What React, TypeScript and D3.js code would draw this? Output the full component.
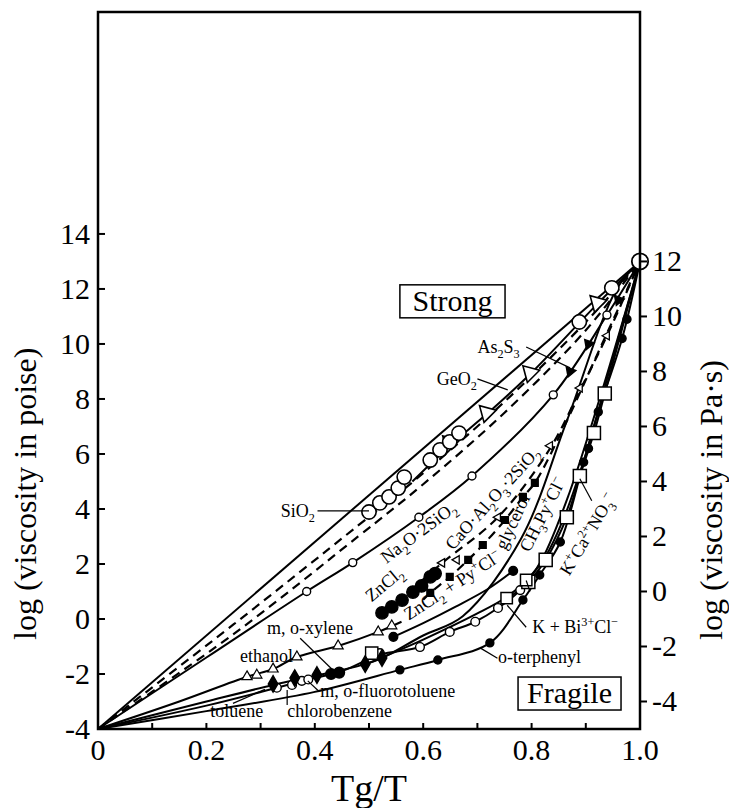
import React from "react";
import * as d3 from "d3";

type Pt = [number, number];

// all curves in log(poise) vs Tg/T, meeting at (1, 13)
const sio2Line: Pt[] = [[0, -4], [1, 13]];
const sio2Points: Pt[] = [[0.5, 3.89], [0.52, 4.22], [0.537, 4.44], [0.554, 4.76], [0.565, 5.16], [0.613, 5.78], [0.631, 6.15], [0.649, 6.44], [0.666, 6.76], [0.888, 10.8], [0.948, 12.04]];
const endPoint: Pt[] = [[1, 13]];

const dashedUpper: Pt[] = [[0, -4], [0.25, -0.2], [0.48, 3.4], [0.6, 5.3], [0.75, 7.9], [0.9, 10.8], [1, 13]];
const dashedLower: Pt[] = [[0, -4], [0.25, -0.55], [0.48, 3.0], [0.6, 4.9], [0.75, 7.5], [0.9, 10.5], [1, 13]];

const geo2Line: Pt[] = [[0.58, 5.0], [0.649, 6.3], [0.717, 7.45], [0.797, 8.9], [0.921, 11.45], [1, 13]];
const geo2Points: Pt[] = [[0.649, 6.4], [0.717, 7.5], [0.797, 8.95], [0.921, 11.5]];

const na2oLine: Pt[] = [[0, -4], [0.2, -1.4], [0.385, 1.0], [0.47, 2.05], [0.592, 3.7], [0.69, 5.2], [0.84, 8.15], [0.939, 11.05], [1, 13]];
const na2oPoints: Pt[] = [[0.385, 1.0], [0.47, 2.05], [0.592, 3.7], [0.69, 5.2], [0.84, 8.15], [0.939, 11.05]];
const as2s3Points: Pt[] = [[0.871, 9.0], [0.905, 10.0], [0.96, 11.6]];

const caoLine: Pt[] = [[0.575, 1.0], [0.635, 2.04], [0.738, 3.7], [0.834, 6.2], [0.889, 8.3], [0.939, 10.3], [1, 13]];
const caoPoints: Pt[] = [[0.635, 2.04], [0.662, 2.15], [0.738, 3.7], [0.834, 6.3], [0.889, 8.4], [0.939, 10.3]];

const squareDashLine: Pt[] = [[0.6, 0.7], [0.613, 0.95], [0.649, 1.53], [0.683, 2.15], [0.71, 2.69], [0.751, 3.6], [0.784, 4.44], [0.806, 4.95], [0.86, 7.0], [0.93, 10.0], [1, 13]];
const squareDashPoints: Pt[] = [[0.613, 0.95], [0.649, 1.53], [0.683, 2.15], [0.71, 2.69], [0.751, 3.6], [0.784, 4.44], [0.806, 4.95]];

const zncl2Points: Pt[] = [[0.524, 0.22], [0.542, 0.44], [0.561, 0.69], [0.581, 0.98], [0.597, 1.2], [0.613, 1.53], [0.622, 1.65]];

const glycerolLine: Pt[] = [[0, -4], [0.2, -3.0], [0.323, -2.4], [0.404, -2.05], [0.493, -1.64], [0.524, -1.42], [0.6, -0.6], [0.673, 0.1], [0.78, 2.9], [0.865, 7.2], [0.957, 12.0], [1, 13]];
const xylenePoints: Pt[] = [[0.323, -2.36], [0.363, -2.15], [0.404, -2.04], [0.493, -1.64], [0.524, -1.42]];
const fluoroPoints: Pt[] = [[0.43, -2.0], [0.445, -1.95]];

const ethanolLine: Pt[] = [[0, -4], [0.15, -3.0], [0.275, -2.1], [0.323, -1.82], [0.367, -1.38], [0.443, -0.98], [0.517, -0.47], [0.56, -0.1]];
const ethanolPoints: Pt[] = [[0.275, -2.1], [0.293, -2.04], [0.323, -1.82], [0.367, -1.38], [0.443, -0.98], [0.517, -0.47], [0.542, -0.25]];

const znPyLine: Pt[] = [[0.545, -0.65], [0.6, -0.15], [0.66, 0.45], [0.72, 1.1], [0.766, 1.75]];
const znPyPoints: Pt[] = [[0.545, -0.65], [0.766, 1.75]];

const ch3pyLine: Pt[] = [[0.5, -1.6], [0.6, -0.75], [0.7, 0.2], [0.754, 0.8], [0.79, 1.4], [0.825, 2.25], [0.86, 3.7], [0.9, 6.0], [0.95, 9.5], [1, 13]];
const ch3pyPoints: Pt[] = [[0.754, 0.76], [0.79, 1.42]];

const kcaLine: Pt[] = [[0.757, 0.76], [0.794, 1.35], [0.826, 2.15], [0.865, 3.7], [0.889, 5.2], [0.915, 6.76], [0.935, 8.2], [1, 13]];
const kcaPoints: Pt[] = [[0.794, 1.35], [0.826, 2.15], [0.865, 3.7], [0.889, 5.2], [0.915, 6.76], [0.935, 8.2]];

const kbiLine: Pt[] = [[0, -4], [0.2, -3.15], [0.33, -2.5], [0.388, -2.2], [0.45, -1.9], [0.52, -1.3], [0.594, -1.02], [0.649, -0.47], [0.696, -0.1], [0.738, 0.4], [0.779, 1.05], [0.82, 2.2], [0.87, 4.6], [0.93, 8.3], [1, 13]];
const kbiPoints: Pt[] = [[0.33, -2.5], [0.358, -2.4], [0.376, -2.25], [0.388, -2.2], [0.52, -1.24], [0.594, -1.02], [0.649, -0.47], [0.696, -0.1], [0.738, 0.4], [0.779, 1.05]];
const squareLone: Pt[] = [[0.505, -1.24]];

const terphenylLine: Pt[] = [[0, -4], [0.2, -3.35], [0.4, -2.65], [0.557, -1.85], [0.627, -1.49], [0.723, -0.87], [0.784, 0.69], [0.815, 1.6], [0.853, 2.8], [0.896, 5.7], [0.923, 7.53], [0.967, 10.2], [1, 13]];
const terphenylPoints: Pt[] = [[0.557, -1.85], [0.627, -1.49], [0.723, -0.87], [0.784, 0.69], [0.815, 1.6], [0.853, 2.8], [0.896, 5.7], [0.905, 6.2], [0.923, 7.53], [0.967, 10.2], [0.976, 10.9]];

const xTickLabels = [0, 0.2, 0.4, 0.6, 0.8, 1.0];
const poiseTicks = [-4, -2, 0, 2, 4, 6, 8, 10, 12, 14];
const pasTicks = [-4, -2, 0, 2, 4, 6, 8, 10, 12];

const SERIF = "'Liberation Serif', 'DejaVu Serif', 'Times New Roman', serif";

type Part = [string, "n" | "sub" | "sup"];

function Rich({ x, y, parts, size = 18, anchor = "start", rotate = 0 }: { x: number; y: number; parts: Part[]; size?: number; anchor?: string; rotate?: number }) {
  let shift = 0;
  const spans = parts.map(([t, k], i) => {
    const target = k === "sub" ? size * 0.3 : k === "sup" ? -size * 0.38 : 0;
    const dy = target - shift;
    shift = target;
    return (
      <tspan key={i} dy={dy} style={{ fontSize: k === "n" ? size : size * 0.68 }}>
        {t}
      </tspan>
    );
  });
  return (
    <text x={x} y={y} style={{ fontSize: size, fontFamily: SERIF }} textAnchor={anchor} transform={rotate ? `rotate(${rotate},${x},${y})` : undefined}>
      {spans}
    </text>
  );
}

export default function App() {
  const x = d3.scaleLinear().domain([0, 1]).range([98, 640]);
  const y = d3.scaleLinear().domain([-4, 22.07]).range([729, 12]);
  const line = d3.line<Pt>().x((d) => x(d[0])).y((d) => y(d[1])).curve(d3.curveCatmullRom.alpha(0.5));

  const sym = (type: d3.SymbolType, size: number) => d3.symbol().type(type).size(size)() as string;

  const solid = (pts: Pt[], key: string) => <path key={key} d={line(pts) as string} fill="none" stroke="#000" strokeWidth={2} />;
  const dashed = (pts: Pt[], key: string) => <path key={key} d={line(pts) as string} fill="none" stroke="#000" strokeWidth={2.2} strokeDasharray="9,6" />;

  const marks = (pts: Pt[], type: d3.SymbolType, size: number, filled: boolean, rot = 0, sw = 1.4) =>
    pts.map((d, i) => (
      <path
        key={i}
        d={sym(type, size)}
        transform={`translate(${x(d[0])},${y(d[1])}) rotate(${rot})`}
        fill={filled ? "#000" : "#fff"}
        stroke="#000"
        strokeWidth={sw}
      />
    ));

  const tick = (x1: number, y1: number, x2: number, y2: number, k: string) => <line key={k} x1={x1} y1={y1} x2={x2} y2={y2} stroke="#000" strokeWidth={2} />;
  const big = { fontFamily: SERIF, fontSize: 30 };

  return (
    <div style={{ position: "absolute", left: 0, top: 0 }}>
      <svg width={729} height={808} style={{ display: "block", background: "#fff", fontFamily: SERIF }}>
        {/* curves */}
        {solid(sio2Line, "sio2")}
        {dashed(dashedUpper, "du")}
        {dashed(dashedLower, "dl")}
        {solid(geo2Line, "geo2")}
        {solid(na2oLine, "na2o")}
        {dashed(caoLine, "cao")}
        {dashed(squareDashLine, "sq")}
        {solid(glycerolLine, "gly")}
        {solid(ethanolLine, "eth")}
        {solid(znPyLine, "znpy")}
        {solid(ch3pyLine, "ch3")}
        {solid(kcaLine, "kca")}
        {solid(kbiLine, "kbi")}
        {solid(terphenylLine, "ter")}

        {/* markers */}
        <g>{marks(terphenylPoints, d3.symbolCircle, 50, true)}</g>
        <g>{marks(kbiPoints, d3.symbolCircle, 60, false)}</g>
        <g>{marks(squareLone, d3.symbolSquare, 150, false)}</g>
        <g>{marks(kcaPoints, d3.symbolSquare, 170, false, 0, 1.5)}</g>
        <g>{marks(ch3pyPoints, d3.symbolSquare, 130, false, 0, 1.5)}</g>
        <g>{marks(znPyPoints, d3.symbolCircle, 60, true)}</g>
        <g>{marks(ethanolPoints, d3.symbolTriangle, 45, false, 0, 1.2)}</g>
        <g>{marks(xylenePoints, d3.symbolDiamond, 80, true)}</g>
        <g>{marks(fluoroPoints, d3.symbolCircle, 90, true)}</g>
        <g>{marks(zncl2Points, d3.symbolCircle, 120, true)}</g>
        <g>{marks(squareDashPoints, d3.symbolSquare, 45, true)}</g>
        <g>{marks(caoPoints, d3.symbolTriangle, 30, false, -90, 1.3)}</g>
        <g>{marks(as2s3Points, d3.symbolTriangle, 45, true, 200)}</g>
        <g>{marks(na2oPoints, d3.symbolCircle, 50, false)}</g>
        <g>{marks(geo2Points, d3.symbolTriangle, 130, false, 195, 1.6)}</g>
        <g>{marks(sio2Points, d3.symbolCircle, 160, false, 0, 1.6)}</g>
        <g>{marks(endPoint, d3.symbolCircle, 210, false, 0, 1.8)}</g>

        {/* frame */}
        <rect x={x(0)} y={y(22.07)} width={x(1) - x(0)} height={y(-4) - y(22.07)} fill="none" stroke="#000" strokeWidth={2.5} />

        {/* bottom ticks */}
        {x.ticks(10).map((t, i) => tick(x(t), y(-4), x(t), y(-4) - 6, "bx" + i))}
        {xTickLabels.map((t, i) => (
          <text key={"xl" + i} x={x(t)} y={y(-4) + 31} style={big} textAnchor="middle">
            {t === 0 ? "0" : t.toFixed(1)}
          </text>
        ))}
        {/* left ticks */}
        {poiseTicks.map((t, i) => tick(x(0), y(t), x(0) + 7, y(t), "ly" + i))}
        {poiseTicks.map((t, i) => (
          <text key={"ll" + i} x={x(0) - 8} y={y(t) + 10} style={big} textAnchor="end">
            {t}
          </text>
        ))}
        {/* right ticks, Pa·s = poise - 1 */}
        {pasTicks.map((t, i) => tick(x(1), y(t + 1), x(1) + 7, y(t + 1), "ry" + i))}
        {pasTicks.map((t, i) => (
          <text key={"rl" + i} x={x(1) + 12} y={y(t + 1) + 10} style={big} textAnchor="start">
            {t}
          </text>
        ))}

        {/* axis titles */}
        <text x={36} y={640} style={{ fontFamily: SERIF, fontSize: 32 }} transform="rotate(-90,36,640)">
          log (viscosity in poise)
        </text>
        <text x={722} y={640} style={{ fontFamily: SERIF, fontSize: 32 }} transform="rotate(-90,722,640)">
          log (viscosity in Pa·s)
        </text>
        <text x={x(0.5)} y={801} style={{ fontFamily: SERIF, fontSize: 38 }} textAnchor="middle">
          Tg/T
        </text>

        {/* Strong / Fragile boxes */}
        <rect x={x(0.557)} y={y(12.15)} width={x(0.751) - x(0.557)} height={y(10.95) - y(12.15)} fill="#fff" stroke="#000" strokeWidth={1.5} />
        <text x={(x(0.557) + x(0.751)) / 2} y={y(11.2)} style={{ fontFamily: SERIF, fontSize: 30 }} textAnchor="middle">
          Strong
        </text>
        <rect x={x(0.775)} y={y(-2.11)} width={x(0.965) - x(0.775)} height={y(-3.31) - y(-2.11)} fill="#fff" stroke="#000" strokeWidth={1.5} />
        <text x={(x(0.775) + x(0.965)) / 2} y={y(-3.05)} style={{ fontFamily: SERIF, fontSize: 30 }} textAnchor="middle">
          Fragile
        </text>

        {/* labels and pointers */}
        <g stroke="#000" strokeWidth={1.2}>
          <line x1={x(0.405)} y1={y(3.93)} x2={x(0.5)} y2={y(3.93)} />
          <line x1={x(0.7)} y1={y(8.73)} x2={x(0.756)} y2={y(8.33)} />
          <line x1={x(0.79)} y1={y(9.89)} x2={x(0.871)} y2={y(9.13)} />
          <line x1={x(0.79)} y1={y(-0.3)} x2={x(0.755)} y2={y(0.5)} />
          <line x1={x(0.737)} y1={y(-1.43)} x2={x(0.705)} y2={y(-1.05)} />
          <line x1={x(0.373)} y1={y(-0.7)} x2={x(0.446)} y2={y(-2.1)} />
          <line x1={x(0.406)} y1={y(-2.6)} x2={x(0.387)} y2={y(-2.25)} />
          <line x1={x(0.349)} y1={y(-3.13)} x2={x(0.349)} y2={y(-2.58)} />
          <line x1={x(0.249)} y1={y(-3.07)} x2={x(0.308)} y2={y(-2.56)} />
          <line x1={x(0.79)} y1={y(1.4)} x2={x(0.797)} y2={y(1.0)} />
          <line x1={x(0.889)} y1={y(5.1)} x2={x(0.911)} y2={y(4.3)} />
        </g>
        <Rich x={x(0.4)} y={y(3.72)} anchor="end" parts={[["SiO", "n"], ["2", "sub"]]} />
        <Rich x={x(0.625)} y={y(8.51)} parts={[["GeO", "n"], ["2", "sub"]]} />
        <Rich x={x(0.7)} y={y(9.67)} parts={[["As", "n"], ["2", "sub"], ["S", "n"], ["3", "sub"]]} />
        <Rich x={x(0.598)} y={y(2.98)} anchor="middle" rotate={-37} parts={[["Na", "n"], ["2", "sub"], ["O·2SiO", "n"], ["2", "sub"]]} />
        <Rich x={x(0.736)} y={y(4.25)} anchor="middle" rotate={-48} parts={[["CaO·Al", "n"], ["2", "sub"], ["O", "n"], ["3", "sub"], ["·2SiO", "n"], ["2", "sub"]]} />
        <Rich x={x(0.535)} y={y(1.1)} anchor="middle" rotate={-40} parts={[["ZnCl", "n"], ["2", "sub"]]} />
        <Rich x={x(0.66)} y={y(1.05)} anchor="middle" rotate={-33} parts={[["ZnCl", "n"], ["2", "sub"], [" + Py", "n"], ["+", "sup"], ["Cl", "n"], ["−", "sup"]]} />
        <Rich x={x(0.775)} y={y(3.45)} anchor="middle" rotate={-65} parts={[["glycerol", "n"]]} />
        <Rich x={x(0.83)} y={y(3.71)} anchor="middle" rotate={-63} parts={[["CH", "n"], ["3", "sub"], ["Py", "n"], ["+", "sup"], ["Cl", "n"], ["−", "sup"]]} />
        <Rich x={x(0.913)} y={y(2.98)} anchor="middle" rotate={-59} parts={[["K", "n"], ["+", "sup"], ["Ca", "n"], ["2+", "sup"], ["NO", "n"], ["3", "sub"], ["−", "sup"]]} />
        <Rich x={x(0.801)} y={y(-0.51)} parts={[["K + Bi", "n"], ["3+", "sup"], ["Cl", "n"], ["−", "sup"]]} />
        <Rich x={x(0.738)} y={y(-1.6)} parts={[["o-terphenyl", "n"]]} />
        <Rich x={x(0.312)} y={y(-0.55)} parts={[["m, o-xylene", "n"]]} />
        <Rich x={x(0.262)} y={y(-1.56)} parts={[["ethanol", "n"]]} />
        <Rich x={x(0.41)} y={y(-2.84)} parts={[["m, o-fluorotoluene", "n"]]} />
        <Rich x={x(0.349)} y={y(-3.56)} parts={[["chlorobenzene", "n"]]} />
        <Rich x={x(0.207)} y={y(-3.56)} parts={[["toluene", "n"]]} />
      </svg>
    </div>
  );
}
